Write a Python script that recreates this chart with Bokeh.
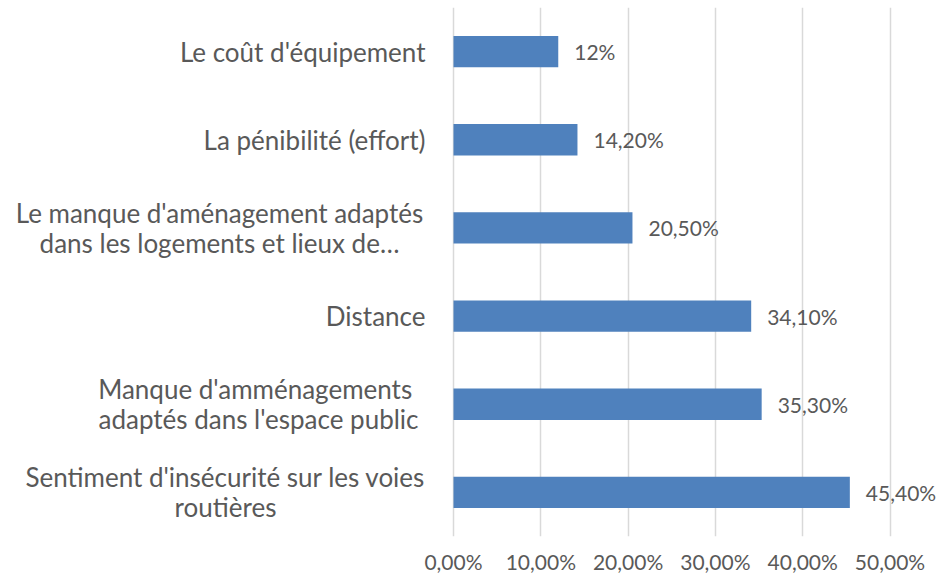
from bokeh.plotting import figure
from bokeh.models import ColumnDataSource, Range1d, FixedTicker, LabelSet
from bokeh.core.properties import value
from bokeh.embed import file_html
from bokeh.resources import INLINE

categories = [
    "Le coût d'équipement",
    "La pénibilité (effort)",
    "Le manque d'aménagement adaptés\ndans les logements et lieux de…",
    "Distance",
    "Manque d'amménagements \nadaptés dans l'espace public",
    "Sentiment d'insécurité sur les voies\nroutières",
]
values = [0.12, 0.142, 0.205, 0.341, 0.353, 0.454]
value_labels = ["12%", "14,20%", "20,50%", "34,10%", "35,30%", "45,40%"]
tick_values = [0.0, 0.1, 0.2, 0.3, 0.4, 0.5]
tick_labels = ["0,00%", "10,00%", "20,00%", "30,00%", "40,00%", "50,00%"]

FONT = "Lato"
TXT = "#595959"
FS = "21px"
CAT_FS = "26px"

n = len(categories)
ypos = [n - 1 - i for i in range(n)]

src = ColumnDataSource(dict(y=ypos, v=values, lab=value_labels))

# frame spans the full width: the category labels sit at negative x
px_per_unit = 873.0
p = figure(frame_width=937, frame_height=529, output_backend="svg",
           toolbar_location=None,
           x_range=Range1d(-453 / px_per_unit, 484 / px_per_unit),
           y_range=Range1d(-0.5, n - 0.5),
           min_border_left=0, min_border_right=0, min_border_top=7,
           min_border_bottom=10, y_axis_location=None)
p.outline_line_color = None
p.background_fill_color = "white"
p.border_fill_color = "white"

p.hbar(y="y", right="v", left=0, height=0.355, source=src,
       fill_color="#4F81BD", line_color=None)

p.add_layout(LabelSet(x="v", y="y", text="lab", source=src, x_offset=16,
                      text_baseline="middle", text_align="left",
                      text_font=value(FONT), text_font_size=FS,
                      text_color=TXT))

xa = p.xaxis[0]
xa.ticker = FixedTicker(ticks=tick_values)
xa.major_label_overrides = {t: l for t, l in zip(tick_values, tick_labels)}
xa.axis_line_color = None
xa.major_tick_line_color = None
xa.minor_tick_line_color = None
xa.major_label_standoff = 6
xa.major_label_text_font = FONT
xa.major_label_text_font_size = FS
xa.major_label_text_color = TXT

p.xgrid.ticker = FixedTicker(ticks=tick_values)
p.xgrid.grid_line_color = "#D9D9D9"
p.xgrid.grid_line_width = 1.5
p.ygrid.grid_line_color = None

# category labels: block right-aligned left of the axis, lines centred in block
right_gap = -28
centre_off = {2: -234, 4: -195, 5: -228}
line_gap = 15
single = dict(x=[], y=[], t=[])
multi = dict(x=[], y=[], t=[], xo=[], yo=[])
for i, cat in enumerate(categories):
    lines = cat.split("\n")
    if len(lines) == 1:
        single["x"].append(0.0)
        single["y"].append(ypos[i])
        single["t"].append(lines[0])
    else:
        for k, ln in enumerate(lines):
            multi["x"].append(0.0)
            multi["y"].append(ypos[i])
            multi["t"].append(ln)
            multi["xo"].append(centre_off[i])
            multi["yo"].append(-line_gap if k == 0 else line_gap)

p.text(x="x", y="y", text="t", source=ColumnDataSource(single),
       x_offset=right_gap, text_align="right", text_baseline="middle",
       text_font=value(FONT), text_font_size=CAT_FS, text_color=TXT)
p.text(x="x", y="y", text="t", source=ColumnDataSource(multi),
       x_offset="xo", y_offset="yo", text_align="center",
       text_baseline="middle",
       text_font=value(FONT), text_font_size=CAT_FS, text_color=TXT)

open("out.html", "w").write(file_html(p, INLINE))
